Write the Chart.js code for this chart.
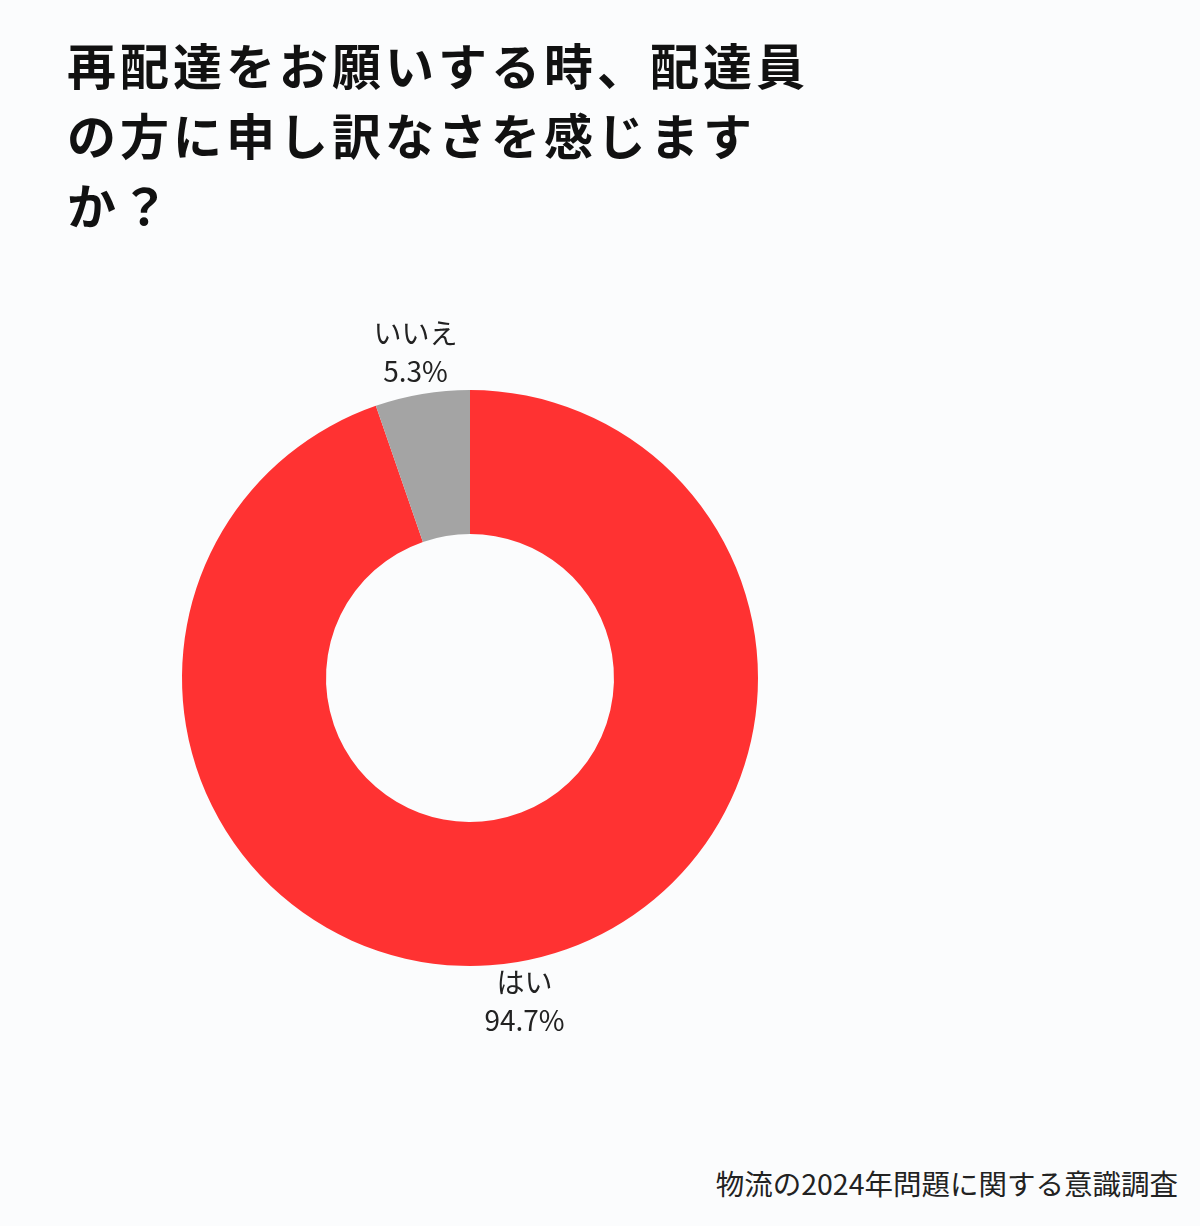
<!DOCTYPE html>
<html lang="ja">
<head>
<meta charset="utf-8">
<script src="https://cdn.jsdelivr.net/npm/chart.js@4.4.1/dist/chart.umd.min.js"></script>
<style>
  html, body { margin: 0; padding: 0; background: #fbfcfd; }
  body { width: 1200px; height: 1226px; position: relative; overflow: hidden;
         font-family: "Noto Sans CJK JP", "Noto Sans", sans-serif; color: #111; }
  h1 { position: absolute; left: 67px; top: 29px; margin: 0; font-size: 49px; font-weight: 700;
       line-height: 70px; letter-spacing: 4px; width: 800px; }
  #wrap { position: absolute; left: 70px; top: 278px; width: 800px; height: 800px; }
  .source { position: absolute; right: 22px; top: 1162px; font-size: 28.5px; color: #222; }
</style>
</head>
<body>
<h1>再配達をお願いする時、配達員<br>の方に申し訳なさを感じます<br>か？</h1>
<div id="wrap"><canvas id="donut"></canvas></div>
<div class="source">物流の2024年問題に関する意識調査</div>
<script>
  var labels = ["はい", "いいえ"];
  var values = [94.7, 5.3];
  var colors = ["#ff3232", "#a4a4a4"];

  // draw "label / xx%" outside each slice, along its middle angle
  var outerLabels = {
    id: "outerLabels",
    afterDraw: function (chart) {
      var ctx = chart.ctx;
      var meta = chart.getDatasetMeta(0);
      ctx.save();
      ctx.fillStyle = "#222";
      ctx.textAlign = "center";
      ctx.textBaseline = "middle";
      ctx.font = '28px "Noto Sans CJK JP"';
      meta.data.forEach(function (arc, i) {
        var p = arc.getProps(["x", "y", "startAngle", "endAngle", "outerRadius"], true);
        var mid = (p.startAngle + p.endAngle) / 2;
        var r = p.outerRadius + 41;
        var x = p.x + Math.cos(mid) * r;
        var y = p.y + Math.sin(mid) * r;
        ctx.fillText(labels[i], x, y - 20);
        ctx.fillText(values[i].toFixed(1) + "%", x, y + 18);
      });
      ctx.restore();
    },
  };

  new Chart(document.getElementById("donut"), {
    type: "doughnut",
    data: {
      labels: labels,
      datasets: [
        {
          data: values,
          backgroundColor: colors,
          borderWidth: 0,
        },
      ],
    },
    options: {
      responsive: true,
      maintainAspectRatio: false,
      animation: false,
      cutout: "50%",
      layout: { padding: 112 },
      plugins: {
        legend: { display: false },
        tooltip: { enabled: false },
      },
    },
    plugins: [outerLabels],
  });
</script>
</body>
</html>
